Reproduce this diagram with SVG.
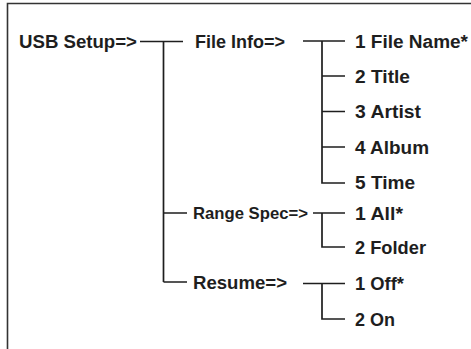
<svg xmlns="http://www.w3.org/2000/svg" width="471" height="349" viewBox="0 0 471 349">
<style>
.t{font-family:"Liberation Sans",Arial,sans-serif;font-weight:bold;font-size:18px;fill:#1e1e1e}
.s{font-size:16.5px}
.c{fill:none;stroke:#1e1e1e;stroke-width:1.7}
.f{fill:none;stroke:#333;stroke-width:1.6}
</style>
<rect width="471" height="349" fill="#fff"/>
<path class="f" d="M7.5,349 V3.5 H471"/>
<g id="connectors">
<path class="c" d="M140,41.5 H183 M163.5,41.5 V282 M163.5,213 H187 M163.5,282 H187"/>
<path class="c" d="M303,41 H345 M322,41 V183 H345 M322,76 H345 M322,111.5 H345 M322,147 H345"/>
<path class="c" d="M313,213 H345 M322,213 V247 H345"/>
<path class="c" d="M303,283.5 H345 M322,283.5 V319 H345"/>
</g>
<g id="usb-setup"><text class="t" x="19" y="47.5" textLength="118" lengthAdjust="spacingAndGlyphs">USB Setup=&gt;</text></g>
<g id="file-info"><text class="t" x="195" y="47.5" textLength="90" lengthAdjust="spacingAndGlyphs">File Info=&gt;</text></g>
<g id="range-spec"><text class="t s" x="193" y="219" textLength="115" lengthAdjust="spacingAndGlyphs">Range Spec=&gt;</text></g>
<g id="resume"><text class="t" x="193" y="288.5" textLength="94" lengthAdjust="spacingAndGlyphs">Resume=&gt;</text></g>
<g id="file-name"><text class="t" x="355" y="47.5" textLength="113" lengthAdjust="spacingAndGlyphs">1 File Name*</text></g>
<g id="title"><text class="t" x="355" y="82.5" textLength="55" lengthAdjust="spacingAndGlyphs">2 Title</text></g>
<g id="artist"><text class="t" x="355" y="118" textLength="66" lengthAdjust="spacingAndGlyphs">3 Artist</text></g>
<g id="album"><text class="t" x="355" y="153.5" textLength="74" lengthAdjust="spacingAndGlyphs">4 Album</text></g>
<g id="time"><text class="t" x="355" y="189" textLength="60" lengthAdjust="spacingAndGlyphs">5 Time</text></g>
<g id="all"><text class="t" x="355" y="219.5" textLength="48" lengthAdjust="spacingAndGlyphs">1 All*</text></g>
<g id="folder"><text class="t" x="355" y="253.5" textLength="71" lengthAdjust="spacingAndGlyphs">2 Folder</text></g>
<g id="off"><text class="t" x="355" y="290" textLength="49" lengthAdjust="spacingAndGlyphs">1 Off*</text></g>
<g id="on"><text class="t" x="355" y="325.5" textLength="40" lengthAdjust="spacingAndGlyphs">2 On</text></g>
</svg>
